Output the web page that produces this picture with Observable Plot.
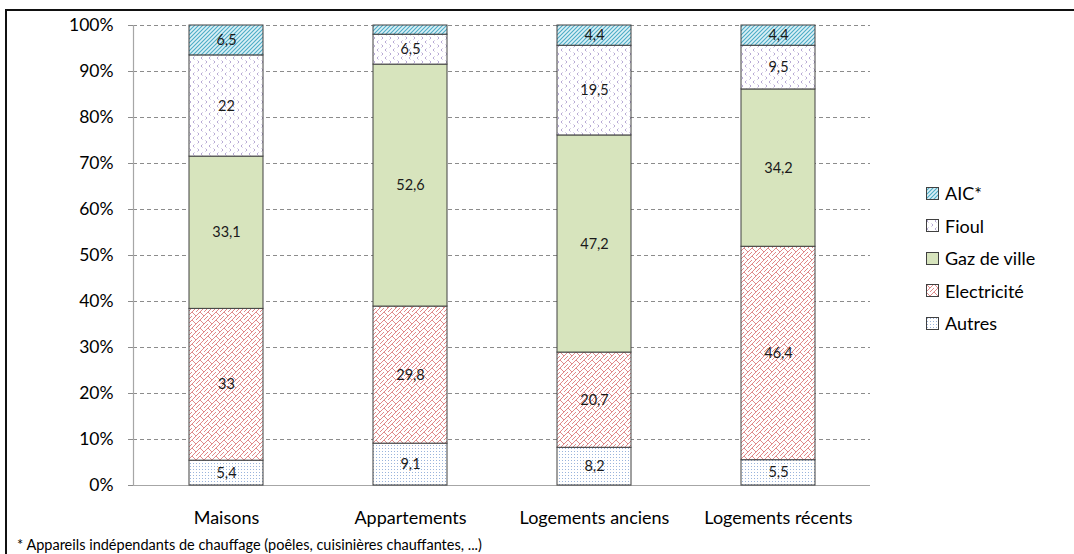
<!DOCTYPE html>
<html>
<head>
<meta charset="utf-8">
<script src="https://cdn.jsdelivr.net/npm/d3@7"></script>
<script src="https://cdn.jsdelivr.net/npm/@observablehq/plot@0.6"></script>
<style>
  html, body { margin: 0; padding: 0; background: #fff; }
  body { width: 1074px; height: 554px; position: relative; overflow: hidden; font-family: Lato, "Open Sans", sans-serif; }
  #frame { position: absolute; left: 5px; top: 9px; width: 1200px; height: 700px; border-left: 2px solid #111; border-top: 2px solid #111; }
  #chart { position: absolute; left: 0; top: 0; }
  #legend { position: absolute; left: 926px; top: 177px; font-size: 18px; color: #000; }
  #legend .item { display: flex; align-items: center; height: 32.5px; }
  #legend svg { margin-right: 6px; }
  #note { position: absolute; left: 17px; top: 536px; font-size: 14.5px; color: #000; white-space: nowrap; }
</style>
</head>
<body>
<div id="frame"></div>
<div id="chart"></div>
<div id="legend"></div>
<div id="note">* Appareils indépendants de chauffage (poêles, cuisinières chauffantes, ...)</div>
<script>
const categories = ["Maisons", "Appartements", "Logements anciens", "Logements récents"];
const series = ["Autres", "Electricité", "Gaz de ville", "Fioul", "AIC*"];
const autres = [5.4, 9.1, 8.2, 5.5];
const electricite = [33, 29.8, 20.7, 46.4];
const gaz = [33.1, 52.6, 47.2, 34.2];
const fioul = [22, 6.5, 19.5, 9.5];
const aic = [6.5, 2.0, 4.4, 4.4];
const yTicks = [0, 10, 20, 30, 40, 50, 60, 70, 80, 90, 100];
const legendOrder = ["AIC*", "Fioul", "Gaz de ville", "Electricité", "Autres"];

const valuesBySeries = [autres, electricite, gaz, fioul, aic];
const patternIds = {"Autres": "p-autres", "Electricité": "p-elec", "Gaz de ville": "p-gaz", "Fioul": "p-fioul", "AIC*": "p-aic"};

const data = categories.flatMap((c, i) => series.map((s, j) => ({
  category: c, series: s, value: valuesBySeries[j][i]
})));

const fmt = v => String(v).replace(".", ",");
const font = "Lato, 'Open Sans', sans-serif";

const plot = Plot.plot({
  width: 1074,
  height: 530,
  marginLeft: 133,
  marginRight: 204,
  marginTop: 25,
  marginBottom: 45,
  style: {fontFamily: font, background: "transparent", overflow: "visible"},
  x: {domain: categories, paddingInner: 0.6, paddingOuter: 0.3, label: null},
  y: {domain: [0, 100], label: null},
  color: {domain: series, range: series.map(s => `url(#${patternIds[s]})`)},
  marks: [
    Plot.ruleY(yTicks.filter(d => d > 0), {stroke: "#8c8c8c", strokeDasharray: "4,3", strokeWidth: 1}),
    Plot.ruleY([0], {stroke: "#a6a6a6", strokeWidth: 1.2}),
    Plot.frame({anchor: "left", stroke: "#a6a6a6", strokeWidth: 1.2}),
    Plot.axisY({ticks: yTicks, tickSize: 5, tickPadding: 15, tickFormat: d => d + "%", fontSize: 17.5, stroke: "#8c8c8c", fill: "#000", label: null}),
    Plot.axisX({tickSize: 0, tickPadding: 26, fontSize: 18, fill: "#000", label: null}),
    Plot.barY(data, Plot.stackY({x: "category", y: "value", fill: "series", stroke: "#404040", strokeWidth: 1})),
    Plot.text(data, Plot.stackY({
      x: "category", y: "value", z: "series",
      text: d => d.value >= 3 ? fmt(d.value) : "",
      fontSize: 14.5, fill: "#1a1a1a"
    }))
  ]
});

// pattern definitions used by the fills
const svg = d3.select(plot);
const defs = svg.insert("defs", ":first-child");
function pat(id, w, h, bg, draw) {
  const p = defs.append("pattern").attr("id", id).attr("patternUnits", "userSpaceOnUse").attr("width", w).attr("height", h);
  p.append("rect").attr("width", w).attr("height", h).attr("fill", bg);
  draw(p);
}
pat("p-aic", 4, 4, "#dcf0f6", p => p.append("path").attr("d", "M-1,1 L1,-1 M0,4 L4,0 M3,5 L5,3").attr("stroke", "#4bacc6").attr("stroke-width", 1.1));
pat("p-fioul", 8, 8, "#ffffff", p => {
  p.append("path").attr("d", "M2.5,0.5 L1,2 L2.5,3.5").attr("stroke", "#b0a0d0").attr("fill", "none").attr("stroke-width", 0.9);
  p.append("path").attr("d", "M5.5,4.5 L7,6 L5.5,7.5").attr("stroke", "#b0a0d0").attr("fill", "none").attr("stroke-width", 0.9);
});
pat("p-gaz", 4, 4, "#d7e4bd", p => {});
pat("p-elec", 8, 8, "#ffffff", p => p.append("path").attr("d", "M-1,9 L9,-1 M-1,1 L1,-1 M7,9 L9,7 M0,0 L4,4 M4,8 L8,4").attr("stroke", "#e08a8a").attr("stroke-width", 1).attr("fill", "none"));
pat("p-autres", 3, 3, "#ffffff", p => p.append("rect").attr("x", 1).attr("y", 1).attr("width", 1).attr("height", 1).attr("fill", "#9ab4dc"));

document.getElementById("chart").appendChild(plot);

// legend
const legend = d3.select("#legend");
for (const s of legendOrder) {
  const item = legend.append("div").attr("class", "item");
  const sw = item.append("svg").attr("width", 13).attr("height", 13);
  sw.append("rect").attr("x", 0.5).attr("y", 0.5).attr("width", 12).attr("height", 12)
    .attr("fill", `url(#${patternIds[s]})`).attr("stroke", "#404040");
  item.append("span").text(s);
}
</script>
</body>
</html>
